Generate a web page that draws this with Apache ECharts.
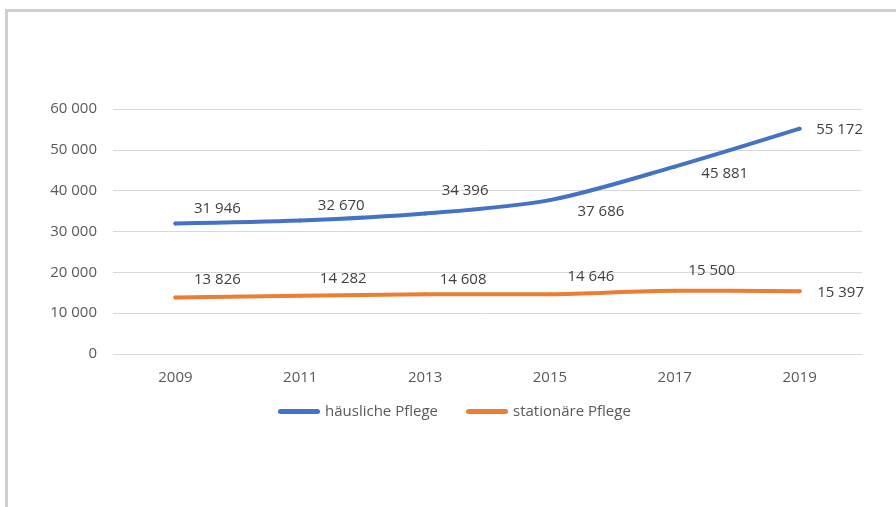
<!DOCTYPE html>
<html>
<head>
<meta charset="utf-8">
<script src="https://cdn.jsdelivr.net/npm/echarts@6/dist/echarts.min.js"></script>
<style>
  html, body { margin: 0; padding: 0; background: #ffffff; }
  #frame {
    position: absolute; left: 5px; top: 9px; right: 0; bottom: 0;
    border-left: 3px solid #c9d1d5; border-top: 3px solid #c9d1d5;
  }
  #chart { position: absolute; left: 0; top: 0; width: 896px; height: 507px; }
</style>
</head>
<body>
<div id="frame"></div>
<div id="chart"></div>
<script>
// Pflegebedürftige nach Versorgungsart
const years = ['2009', '2011', '2013', '2015', '2017', '2019'];
const haeuslich = [31946, 32670, 34396, 37686, 45881, 55172];
const stationaer = [13826, 14282, 14608, 14646, 15500, 15397];
const seriesNames = ['häusliche Pflege', 'stationäre Pflege'];

// Label placement relative to each point (dx, dy in px)
const offsetsHaeuslich = [[42, -15], [41, -15], [40, -23], [51, 12], [50, 7], [40, 1]];
const offsetsStationaer = [[42, -18], [43, -17], [38, -15], [41, -17], [37, -20], [41, 2]];

const fmt = v => String(v).replace(/\B(?=(\d{3})+(?!\d))/g, ' ');
const FONT = 'Open Sans';

function buildData(values, offsets) {
  return values.map((v, i) => ({
    value: v,
    label: { offset: offsets[i] }
  }));
}

function lineSeries(name, values, offsets, color) {
  return {
    name: name,
    type: 'line',
    smooth: 0.3,
    symbol: 'circle',
    symbolSize: 4,
    showSymbol: true,
    itemStyle: { color: color },
    lineStyle: { color: color, width: 4, cap: 'round', join: 'round' },
    label: {
      show: true,
      position: 'inside',
      align: 'center',
      verticalAlign: 'middle',
      color: '#404040',
      fontFamily: FONT,
      fontSize: 15,
      formatter: p => fmt(p.value)
    },
    emphasis: { disabled: true },
    data: buildData(values, offsets)
  };
}

const chart = echarts.init(document.getElementById('chart'), null, { renderer: 'canvas' });
chart.setOption({
  animation: false,
  grid: { left: 113, right: 34, top: 109, bottom: 153 },
  xAxis: {
    type: 'category',
    data: years,
    boundaryGap: true,
    axisLine: { show: true, lineStyle: { color: '#d9d9d9', width: 1 } },
    axisTick: { show: false },
    axisLabel: { color: '#595959', fontFamily: FONT, fontSize: 15, margin: 16 }
  },
  yAxis: {
    type: 'value',
    min: 0,
    max: 60000,
    interval: 10000,
    axisLine: { show: false },
    axisTick: { show: false },
    splitLine: { lineStyle: { color: '#d9d9d9', width: 1 } },
    axisLabel: { color: '#595959', fontFamily: FONT, fontSize: 15, margin: 16, formatter: v => fmt(v) }
  },
  legend: {
    left: 278,
    top: 404,
    padding: 0,
    itemWidth: 42,
    itemHeight: 5,
    itemGap: 28,
    icon: 'path://M2.5,0 L39.5,0 A2.5,2.5 0 0 1 39.5,5 L2.5,5 A2.5,2.5 0 0 1 2.5,0 Z',
    textStyle: { color: '#595959', fontFamily: FONT, fontSize: 15 },
    data: seriesNames
  },
  series: [
    lineSeries(seriesNames[0], haeuslich, offsetsHaeuslich, '#4472c4'),
    lineSeries(seriesNames[1], stationaer, offsetsStationaer, '#ed7d31')
  ]
});
</script>
</body>
</html>
